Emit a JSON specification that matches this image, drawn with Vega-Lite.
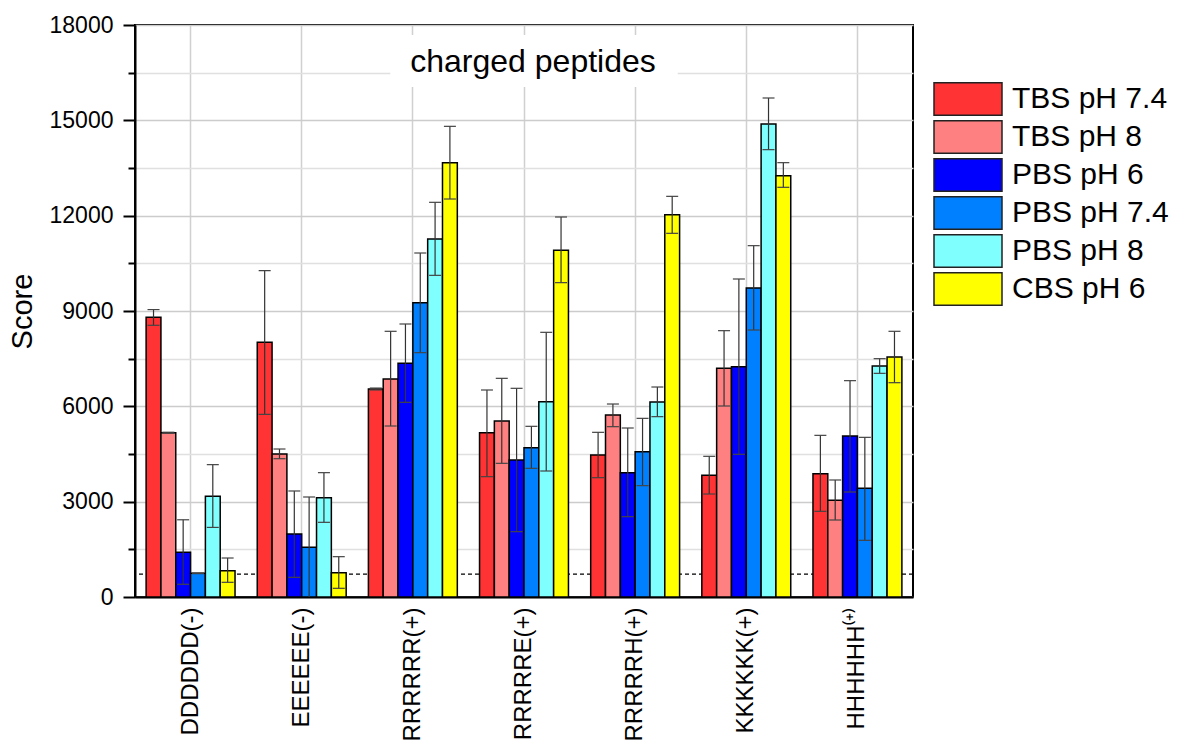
{
  "$schema": "https://vega.github.io/schema/vega-lite/v6.json",
  "width": 778,
  "height": 572,
  "autosize": {"type": "none"},
  "padding": {"left": 135, "top": 25, "right": 268, "bottom": 147},
  "background": "white",
  "config": {
    "font": "Liberation Sans",
    "view": {"stroke": "black", "strokeWidth": 2},
    "style": {"guide-title": {"fontSize": 29, "fontWeight": "normal", "fill": "black"}},
    "axis": {"titleFontSize": 29, "titleFontWeight": "normal", "titleColor": "black"},
    "axisY": {
      "labelFontSize": 23, "labelColor": "black", "labelPadding": 10,
      "tickColor": "black", "tickWidth": 2, "domainColor": "black", "domainWidth": 2,
      "gridWidth": 1.5, "titleFontSize": 29, "titleFontWeight": "normal", "titleColor": "black", "titlePadding": 12
    },
    "axisX": {
      "labelFontSize": 24, "labelColor": "black", "labelPadding": 10, "ticks": false,
      "domainColor": "black", "domainWidth": 2, "gridColor": "#d0d0d0", "gridWidth": 1.5
    }
  },
  "datasets": {
    "scores": [
      {"peptide": "DDDDDD(-)", "buffer": "TBS pH 7.4", "score": 8800, "lo": 8550, "hi": 9045},
      {"peptide": "DDDDDD(-)", "buffer": "TBS pH 8", "score": 5170, "lo": 5155, "hi": 5185},
      {"peptide": "DDDDDD(-)", "buffer": "PBS pH 6", "score": 1406, "lo": 400, "hi": 2430},
      {"peptide": "DDDDDD(-)", "buffer": "PBS pH 7.4", "score": 745, "lo": 735, "hi": 755},
      {"peptide": "DDDDDD(-)", "buffer": "PBS pH 8", "score": 3168, "lo": 2190, "hi": 4165},
      {"peptide": "DDDDDD(-)", "buffer": "CBS pH 6", "score": 829, "lo": 462, "hi": 1227},
      {"peptide": "EEEEEE(-)", "buffer": "TBS pH 7.4", "score": 8014, "lo": 5750, "hi": 10270},
      {"peptide": "EEEEEE(-)", "buffer": "TBS pH 8", "score": 4500, "lo": 4352, "hi": 4657},
      {"peptide": "EEEEEE(-)", "buffer": "PBS pH 6", "score": 1983, "lo": 619, "hi": 3336},
      {"peptide": "EEEEEE(-)", "buffer": "PBS pH 7.4", "score": 1563, "lo": -20, "hi": 3147},
      {"peptide": "EEEEEE(-)", "buffer": "PBS pH 8", "score": 3126, "lo": 2350, "hi": 3913},
      {"peptide": "EEEEEE(-)", "buffer": "CBS pH 6", "score": 766, "lo": 273, "hi": 1269},
      {"peptide": "RRRRRR(+)", "buffer": "TBS pH 7.4", "score": 6545, "lo": 6515, "hi": 6575},
      {"peptide": "RRRRRR(+)", "buffer": "TBS pH 8", "score": 6860, "lo": 5381, "hi": 8361},
      {"peptide": "RRRRRR(+)", "buffer": "PBS pH 6", "score": 7353, "lo": 6126, "hi": 8591},
      {"peptide": "RRRRRR(+)", "buffer": "PBS pH 7.4", "score": 9262, "lo": 7689, "hi": 10825},
      {"peptide": "RRRRRR(+)", "buffer": "PBS pH 8", "score": 11266, "lo": 10122, "hi": 12420},
      {"peptide": "RRRRRR(+)", "buffer": "CBS pH 6", "score": 13668, "lo": 12524, "hi": 14811},
      {"peptide": "RRRRRE(+)", "buffer": "TBS pH 7.4", "score": 5171, "lo": 3787, "hi": 6514},
      {"peptide": "RRRRRE(+)", "buffer": "TBS pH 8", "score": 5538, "lo": 4206, "hi": 6881},
      {"peptide": "RRRRRE(+)", "buffer": "PBS pH 6", "score": 4311, "lo": 2056, "hi": 6567},
      {"peptide": "RRRRRE(+)", "buffer": "PBS pH 7.4", "score": 4699, "lo": 4049, "hi": 5371},
      {"peptide": "RRRRRE(+)", "buffer": "PBS pH 8", "score": 6147, "lo": 3965, "hi": 8329},
      {"peptide": "RRRRRE(+)", "buffer": "CBS pH 6", "score": 10909, "lo": 9892, "hi": 11958},
      {"peptide": "RRRRRH(+)", "buffer": "TBS pH 7.4", "score": 4468, "lo": 3755, "hi": 5182},
      {"peptide": "RRRRRH(+)", "buffer": "TBS pH 8", "score": 5727, "lo": 5360, "hi": 6073},
      {"peptide": "RRRRRH(+)", "buffer": "PBS pH 6", "score": 3913, "lo": 2528, "hi": 5318},
      {"peptide": "RRRRRH(+)", "buffer": "PBS pH 7.4", "score": 4574, "lo": 3504, "hi": 5622},
      {"peptide": "RRRRRH(+)", "buffer": "PBS pH 8", "score": 6136, "lo": 5675, "hi": 6608},
      {"peptide": "RRRRRH(+)", "buffer": "CBS pH 6", "score": 12031, "lo": 11444, "hi": 12608},
      {"peptide": "KKKKKK(+)", "buffer": "TBS pH 7.4", "score": 3829, "lo": 3241, "hi": 4427},
      {"peptide": "KKKKKK(+)", "buffer": "TBS pH 8", "score": 7196, "lo": 6010, "hi": 8381},
      {"peptide": "KKKKKK(+)", "buffer": "PBS pH 6", "score": 7248, "lo": 4490, "hi": 10007},
      {"peptide": "KKKKKK(+)", "buffer": "PBS pH 7.4", "score": 9724, "lo": 8402, "hi": 11056},
      {"peptide": "KKKKKK(+)", "buffer": "PBS pH 8", "score": 14885, "lo": 14077, "hi": 15703},
      {"peptide": "KKKKKK(+)", "buffer": "CBS pH 6", "score": 13259, "lo": 12892, "hi": 13668},
      {"peptide": "HHHHHH⁽⁺⁾", "buffer": "TBS pH 7.4", "score": 3881, "lo": 2696, "hi": 5087},
      {"peptide": "HHHHHH⁽⁺⁾", "buffer": "TBS pH 8", "score": 3042, "lo": 2423, "hi": 3682},
      {"peptide": "HHHHHH⁽⁺⁾", "buffer": "PBS pH 6", "score": 5066, "lo": 3304, "hi": 6808},
      {"peptide": "HHHHHH⁽⁺⁾", "buffer": "PBS pH 7.4", "score": 3420, "lo": 1783, "hi": 5024},
      {"peptide": "HHHHHH⁽⁺⁾", "buffer": "PBS pH 8", "score": 7269, "lo": 7038, "hi": 7500},
      {"peptide": "HHHHHH⁽⁺⁾", "buffer": "CBS pH 6", "score": 7552, "lo": 6744, "hi": 8361}
    ]
  },
  "layer": [
    {
      "data": {"name": "scores"},
      "layer": [
        {
          "data": {"values": [{"threshold": 720}]},
          "mark": {"type": "rule", "color": "black", "strokeWidth": 1.2, "strokeDash": [4, 3]},
          "encoding": {
            "y": {"field": "threshold", "type": "quantitative", "title": "Score"}
          }
        },
        {
          "mark": {"type": "bar", "stroke": "black", "strokeWidth": 1.5},
          "encoding": {
            "x": {
              "field": "peptide", "type": "nominal",
              "sort": ["DDDDDD(-)", "EEEEEE(-)", "RRRRRR(+)", "RRRRRE(+)", "RRRRRH(+)", "KKKKKK(+)", "HHHHHH⁽⁺⁾"],
              "title": null,
              "scale": {"paddingInner": 0.2, "paddingOuter": 0.1},
              "axis": {"labelAngle": -90, "grid": true, "bandPosition": 0.5}
            },
            "xOffset": {"field": "buffer", "sort": ["TBS pH 7.4", "TBS pH 8", "PBS pH 6", "PBS pH 7.4", "PBS pH 8", "CBS pH 6"], "scale": {"paddingInner": 0, "paddingOuter": 0}},
            "y": {
              "field": "score", "type": "quantitative", "title": "Score",
              "scale": {"domain": [0, 18000], "nice": false},
              "axis": {
                "values": [0, 1500, 3000, 4500, 6000, 7500, 9000, 10500, 12000, 13500, 15000, 16500, 18000],
                "format": "d",
                "labelExpr": "datum.value % 3000 === 0 ? datum.label : ''",
                "tickSize": {"condition": {"test": "datum.value % 3000 === 0", "value": 12}, "value": 7},
                "grid": true,
                "gridColor": {"condition": {"test": "datum.value % 3000 === 0", "value": "#cccccc"}, "value": "#e0e0e0"},
                "titleFontSize": 29
              }
            },
            "color": {
              "field": "buffer", "type": "nominal",
              "scale": {
                "domain": ["TBS pH 7.4", "TBS pH 8", "PBS pH 6", "PBS pH 7.4", "PBS pH 8", "CBS pH 6"],
                "range": ["#ff3333", "#ff8080", "#0000ff", "#0080ff", "#80ffff", "#ffff00"]
              },
              "legend": {
                "title": null, "orient": "none", "legendX": 815, "legendY": 56,
                "symbolType": "M-2,-0.96H2V0.96H-2Z", "symbolSize": 1156,
                "symbolStrokeColor": "#222222", "symbolStrokeWidth": 1.5, "symbolOpacity": 1,
                "labelFontSize": 30, "labelColor": "black", "labelOffset": 26,
                "rowPadding": -2.4, "padding": 0
              }
            }
          }
        },
        {
          "mark": {"type": "rule", "color": "#333333", "strokeWidth": 1.2, "clip": true},
          "encoding": {
            "x": {"field": "peptide", "type": "nominal", "sort": ["DDDDDD(-)", "EEEEEE(-)", "RRRRRR(+)", "RRRRRE(+)", "RRRRRH(+)", "KKKKKK(+)", "HHHHHH⁽⁺⁾"], "title": null},
            "xOffset": {"field": "buffer", "sort": ["TBS pH 7.4", "TBS pH 8", "PBS pH 6", "PBS pH 7.4", "PBS pH 8", "CBS pH 6"]},
            "y": {"field": "lo", "type": "quantitative", "title": "Score"},
            "y2": {"field": "hi"}
          }
        },
        {
          "mark": {"type": "tick", "orient": "horizontal", "size": 12, "thickness": 1.2, "color": "#444444", "opacity": 1, "clip": true},
          "encoding": {
            "x": {"field": "peptide", "type": "nominal", "sort": ["DDDDDD(-)", "EEEEEE(-)", "RRRRRR(+)", "RRRRRE(+)", "RRRRRH(+)", "KKKKKK(+)", "HHHHHH⁽⁺⁾"], "title": null},
            "xOffset": {"field": "buffer", "sort": ["TBS pH 7.4", "TBS pH 8", "PBS pH 6", "PBS pH 7.4", "PBS pH 8", "CBS pH 6"]},
            "y": {"field": "lo", "type": "quantitative", "title": "Score"}
          }
        },
        {
          "mark": {"type": "tick", "orient": "horizontal", "size": 12, "thickness": 1.2, "color": "#444444", "opacity": 1, "clip": true},
          "encoding": {
            "x": {"field": "peptide", "type": "nominal", "sort": ["DDDDDD(-)", "EEEEEE(-)", "RRRRRR(+)", "RRRRRE(+)", "RRRRRH(+)", "KKKKKK(+)", "HHHHHH⁽⁺⁾"], "title": null},
            "xOffset": {"field": "buffer", "sort": ["TBS pH 7.4", "TBS pH 8", "PBS pH 6", "PBS pH 7.4", "PBS pH 8", "CBS pH 6"]},
            "y": {"field": "hi", "type": "quantitative", "title": "Score"}
          }
        }
      ]
    },
    {
      "data": {"values": [{"label": "charged peptides", "x0": 2.297, "x1": 4.883, "xc": 3.581, "y0": 16049, "y1": 17685, "yc": 16530}]},
      "layer": [
        {
          "mark": {"type": "rect", "fill": "white", "stroke": null},
          "encoding": {
            "x": {"field": "x0", "type": "quantitative", "scale": {"domain": [0, 7], "nice": false, "zero": false}, "axis": null},
            "x2": {"field": "x1"},
            "y": {"field": "y0", "type": "quantitative", "title": "Score"},
            "y2": {"field": "y1"}
          }
        },
        {
          "mark": {"type": "text", "fontSize": 32, "baseline": "alphabetic", "align": "center", "color": "black"},
          "encoding": {
            "x": {"field": "xc", "type": "quantitative", "axis": null},
            "y": {"field": "yc", "type": "quantitative", "title": "Score"},
            "text": {"field": "label"}
          }
        }
      ]
    }
  ],
  "resolve": {"scale": {"x": "independent"}}
}
